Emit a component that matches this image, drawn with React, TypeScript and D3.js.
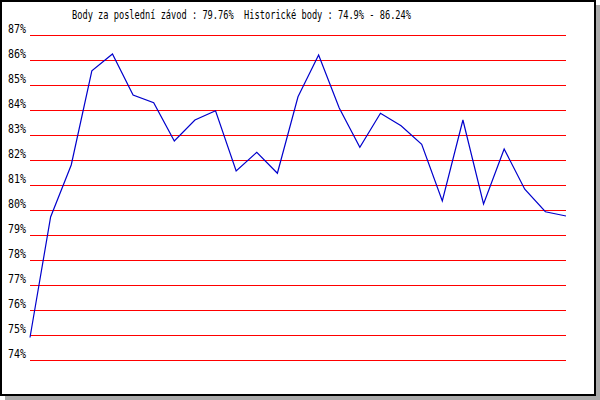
import React from "react";
import * as d3 from "d3";

const titleText = "Body za poslední závod : 79.76%\u00a0\u00a0Historické body : 74.9% - 86.24%";
const yTicks = [74, 75, 76, 77, 78, 79, 80, 81, 82, 83, 84, 85, 86, 87];
const values = [
  74.9, 79.72, 81.8, 85.57, 86.24, 84.6, 84.29, 82.76, 83.6, 83.97, 81.56, 82.31, 81.47,
  84.53, 86.2, 84.08, 82.51, 83.87, 83.37, 82.63, 80.36, 83.6, 80.24, 82.44, 80.83, 79.93, 79.76,
];

export default function App() {
  const W = 600;
  const H = 400;
  const x = d3.scaleLinear().domain([0, values.length - 1]).range([30, 566]);
  const y = d3.scaleLinear().domain([74, 87]).range([360, 35]);
  const line = d3
    .line<number>()
    .x((_, i) => x(i))
    .y((d) => y(d));
  const font = "'DejaVu Sans Mono', monospace";
  return (
    <svg
      width={W}
      height={H}
      style={{ position: "absolute", left: 0, top: 0, background: "#fff" }}
    >
      <rect x={5} y={5} width={595} height={395} fill="#aaaaaa" />
      <rect x={1} y={1} width={594} height={394} fill="#ffffff" stroke="#000" strokeWidth={2} />
      <text
        x={72}
        y={19}
        fontFamily={font}
        fontSize={12}
        textLength={339}
        lengthAdjust="spacingAndGlyphs"
        fill="#000"
      >
        {titleText}
      </text>
      {yTicks.map((t) => (
        <g key={t}>
          <line
            x1={30}
            x2={566}
            y1={Math.round(y(t)) + 0.5}
            y2={Math.round(y(t)) + 0.5}
            stroke="#ff0000"
            strokeWidth={1}
            shapeRendering="crispEdges"
          />
          <text
            x={8}
            y={Math.round(y(t)) - 2}
            fontFamily={font}
            fontSize={12}
            textLength={18}
            lengthAdjust="spacingAndGlyphs"
            fill="#000"
          >
            {`${t}%`}
          </text>
        </g>
      ))}
      <path d={line(values) || ""} fill="none" stroke="#0000cc" strokeWidth={1.2} />
    </svg>
  );
}
